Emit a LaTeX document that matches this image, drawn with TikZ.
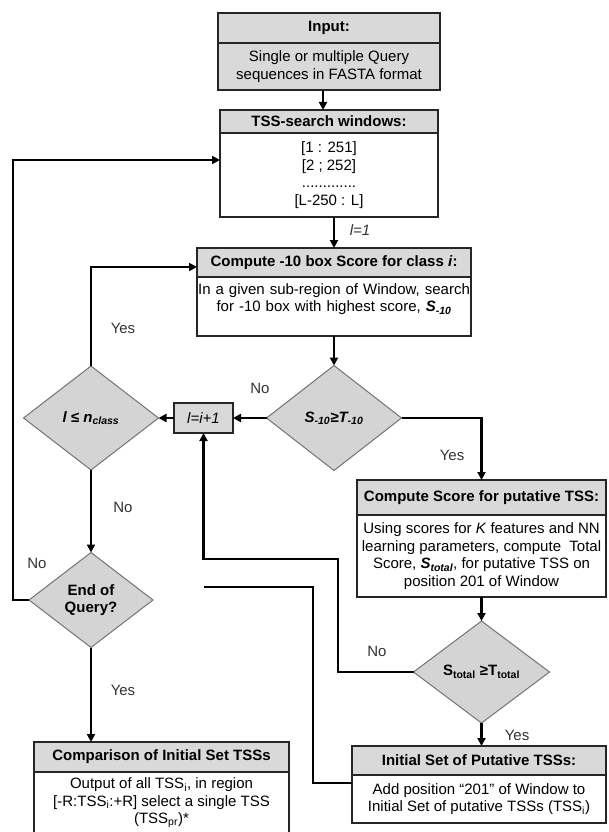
\documentclass[tikz,border=0pt]{standalone}
\usepackage{fontspec}
\setmainfont{Liberation Sans}
\usetikzlibrary{positioning,shapes.geometric,arrows.meta}
\definecolor{hdr}{HTML}{D9D9D9}
\definecolor{dia}{HTML}{D4D4D4}
\def\fs{\fontsize{15}{17.5}\selectfont}
\tikzset{
    hd/.style={draw=black!85,line width=1.5pt,fill=hdr,font=\fs\bfseries,inner sep=1pt,outer sep=0pt,align=center},
    bd/.style={draw=black!85,line width=1.5pt,fill=white,font=\fs,inner sep=1pt,outer sep=0pt,align=center},
    dm/.style={diamond,draw=black!55,line width=1pt,fill=dia,inner sep=0pt,outer sep=0pt,font=\fs\bfseries,align=center},
    ar/.style={line width=2.6pt,-{Triangle[length=8pt,width=8pt]}},
    ln/.style={line width=2.6pt},
    lbl/.style={text=black!80,font=\fs}
}
\begin{document}
\begin{tikzpicture}[x=1pt,y=-1pt]
    \useasboundingbox (0,0) rectangle (609,832);
    % boxes with a grey head
    \node[hd,minimum width=222,minimum height=30,anchor=north] (inH) at (329,13) {Input:};
    \node[bd,fill=hdr,minimum width=222,minimum height=47,below=0pt of inH] (inB) {Single or multiple Query\\sequences in FASTA format};
    \node[hd,minimum width=218,minimum height=23,anchor=north] (twH) at (329,110) {TSS-search windows:};
    \node[bd,minimum width=218,minimum height=84,below=0pt of twH] (twB) {[1 : 251]\\{}[2 ; 252]\\.............\\{}[L-250 : L]};
    \node[hd,minimum width=274,minimum height=29,anchor=north] (c10H) at (334,248) {Compute -10 box Score for class \textit{i}:};
    \node[bd,minimum width=274,minimum height=59,text width=272,below=0pt of c10H] (c10B) {In a given sub-region of Window, search\\for -10 box with highest score, \textbf{\textit{S}}\textsubscript{\textbf{\textit{-10}}}\\\mbox{}};
    \node[hd,minimum width=249,minimum height=35,anchor=north] (csH) at (481.5,480) {Compute Score for putative TSS:};
    \node[bd,minimum width=249,minimum height=82,below=0pt of csH] (csB) {Using scores for \textit{K} features and NN\\learning parameters, compute~ Total\\Score, \textbf{\textit{S\textsubscript{total}}}, for putative TSS on\\position 201 of Window};
    \node[hd,minimum width=255,minimum height=30,anchor=north] (cmH) at (161.5,742) {Comparison of Initial Set TSSs};
    \node[bd,minimum width=255,minimum height=62,below=0pt of cmH] (cmB) {Output of all TSS\textsubscript{i}, in region\\{}[-R:TSS\textsubscript{i}:+R] select a single TSS\\(TSS\textsubscript{pr})*};
    \node[hd,minimum width=254,minimum height=29,anchor=north] (iniH) at (479,746) {Initial Set of Putative TSSs:};
    \node[bd,minimum width=254,minimum height=48,below=0pt of iniH] (iniB) {Add position “201” of Window to\\Initial Set of putative TSSs (TSS\textsubscript{i})};
    \node[hd,font=\fs\itshape,minimum width=59,minimum height=30] (inc) at (203.5,418) {l=i+1};
    % decisions
    \node[dm,minimum width=135,minimum height=105,font=\fs\bfseries\itshape] (s10) at (334,418) {S\textsubscript{-10}≥T\textsubscript{-10}};
    \node[dm,minimum width=135,minimum height=104,font=\fs\bfseries\itshape] (lcl) at (91,418) {l ≤ n\textsubscript{class}};
    \node[dm,minimum width=124,minimum height=95] (eq) at (91,600) {End of\\Query?};
    \node[dm,minimum width=136,minimum height=102] (std) at (481.5,672) {S\textsubscript{total} ≥T\textsubscript{total}};
    \coordinate (j1) at (338,559);
    \coordinate (j2) at (313,587);
    \coordinate (j3) at (13,160);
    % arrows
    \draw[ar] ([xshift=-6pt]inB.south) -- ([xshift=-6pt]twH.north);
    \draw[ar] (c10H.north |- twB.south) -- (c10H.north);
    \draw[ar] (c10B.south) -- (s10.north);
    \draw[ar] (s10.west) -- (inc.east);
    \draw[ar] (inc.west) -- (lcl.east);
    \draw[ar] (lcl.north) |- ([yshift=-4.5pt]c10H.west);
    \draw[ar] (s10.east) -| (csH.north);
    \draw[ar] (csB.south) -- (std.north);
    \draw[ar] (std.south) -- (std.south |- iniH.north);
    \draw[ar] (std.west) -| (j1) -| (inc.south);
    \draw[ln] ([yshift=16pt]iniB.west) -| (j2) -- (j2 -| inc.south);
    \draw[ar] (lcl.south) -- (eq.north);
    \draw[ar] (eq.west) -| (j3) -- (j3 -| twB.west);
    \draw[ar] (eq.south) -- (eq.south |- cmH.north);
    % labels
    \node[lbl,font=\fs\itshape] (l1) at (360,230) {l=1};
    \foreach \x/\y/\t [count=\k] in {260/388/No,123/328/Yes,452/455/Yes,123/507/No,37/563/No,123/690/Yes,377/651/No,517/735/Yes}
        \node[lbl] (lab\k) at (\x,\y) {\t};
\end{tikzpicture}
\end{document}
